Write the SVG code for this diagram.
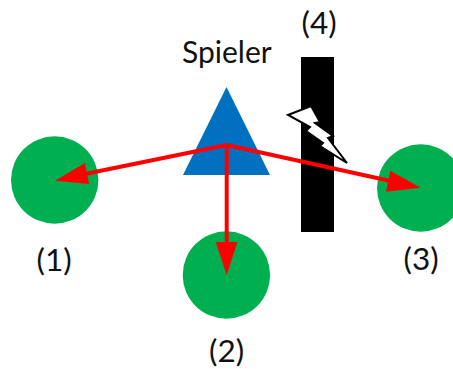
<svg xmlns="http://www.w3.org/2000/svg" width="453" height="369" viewBox="0 0 453 369">
<style>
.c{fill:#00b050}
.t{font-family:"Lato","Open Sans","Liberation Sans",sans-serif;font-size:30px;fill:#111}
.n{font-size:31.5px}
.l{stroke:#ff0000;stroke-width:4;fill:none}
.h{fill:#ff0000}
</style>
<rect width="453" height="369" fill="#fff"/>
<g id="node1"><circle class="c" cx="54.7" cy="180" r="43.7"/><text class="t n" x="36.5" y="271">(1)</text></g>
<g id="node2"><circle class="c" cx="226.4" cy="275" r="43.7"/><text class="t n" x="209" y="362">(2)</text></g>
<g id="node3"><circle class="c" cx="420.7" cy="188" r="43.7"/><text class="t n" x="403.5" y="270">(3)</text></g>
<g id="node4"><rect x="301" y="57" width="33" height="175" fill="#000"/><text class="t n" x="301.5" y="34">(4)</text></g>
<g id="player"><polygon points="226.5,87 270,175 183,175" fill="#0070c0"/><text class="t" x="182" y="63">Spieler</text></g>
<g id="bolt"><polygon points="288,115 311,106 320,122 315,123 333,136 328,138 347,163 320,146 323,143 306,131 310,127" fill="#fff" stroke="#000" stroke-width="2"/></g>
<g id="connectors">
<line class="l" x1="226.7" y1="145" x2="80" y2="175"/><polygon class="h" points="55,180.7 85,163 89,184"/>
<line class="l" x1="226.7" y1="145" x2="226.7" y2="250"/><polygon class="h" points="226.7,275 215.7,242 237.3,242"/>
<line class="l" x1="226.7" y1="145" x2="395" y2="182"/><polygon class="h" points="420.7,187.7 390.3,170.7 386,191.7"/>
</g>
</svg>
